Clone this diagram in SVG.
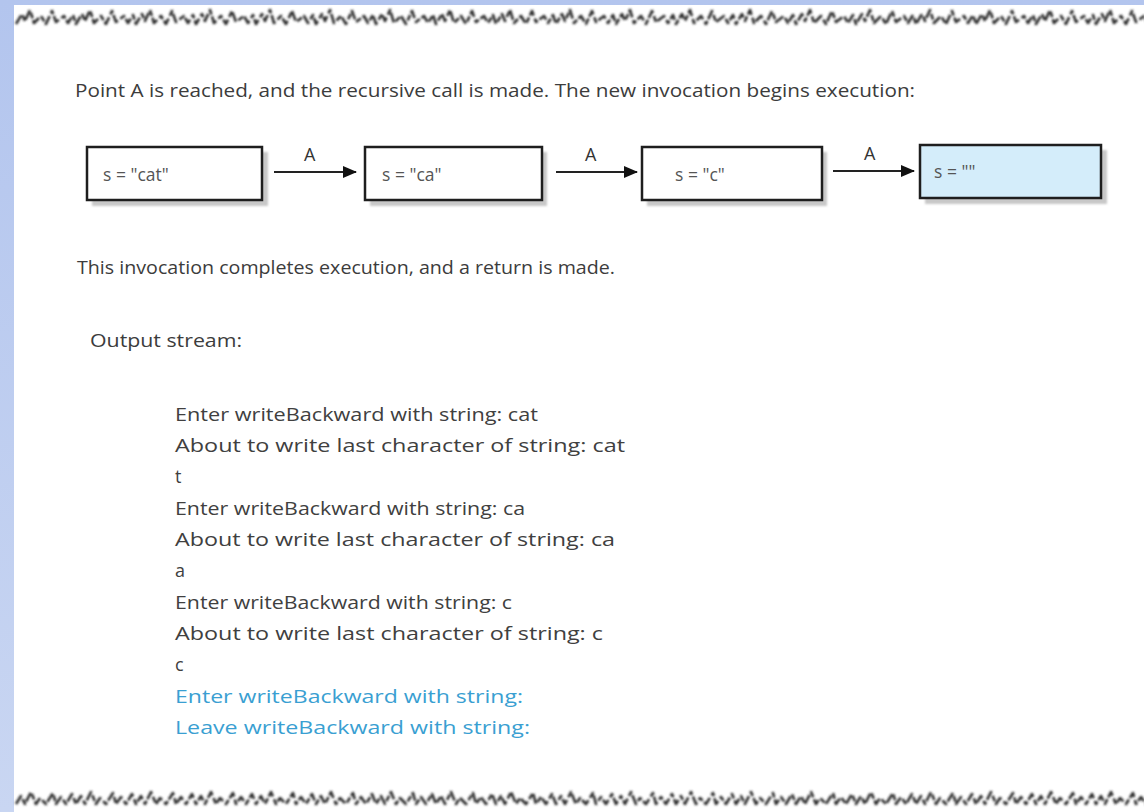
<svg xmlns="http://www.w3.org/2000/svg" width="1144" height="812" viewBox="0 0 1144 812">
<defs>
<style>
.t{font-family:"Open Sans","Noto Sans","Liberation Sans",sans-serif;font-size:18px;fill:#3c3c3c}
.o{font-family:"Open Sans","Noto Sans","Liberation Sans",sans-serif;font-size:18px;fill:#404040}
.b{fill:#3a9fd2}
.bx{fill:#ffffff;stroke:#1e1e1e;stroke-width:2.5}
.sh{fill:#c8c8c8}
.bt{font-family:"Open Sans","Noto Sans","Liberation Sans",sans-serif;font-size:17.5px;fill:#555}
.lbl{font-family:"Open Sans","Noto Sans","Liberation Sans",sans-serif;font-size:18px;fill:#333}
.ar{stroke:#222;stroke-width:2;fill:none}
.edge{fill:none;stroke:#2e2e2e;stroke-width:2.6;stroke-linejoin:round;stroke-dasharray:10 3 6 2}
</style>
<marker id="ah" markerWidth="14" markerHeight="12" refX="13" refY="6" orient="auto" markerUnits="userSpaceOnUse">
<path d="M0,0 L14,6 L0,12 Z" fill="#111"/>
</marker>
<filter id="blur" x="-10%" y="-50%" width="120%" height="200%"><feGaussianBlur stdDeviation="1.3"/></filter>
<linearGradient id="lg" x1="0" y1="0" x2="0" y2="1"><stop offset="0" stop-color="#b3c5ee"/><stop offset="1" stop-color="#c9d6f2"/></linearGradient>
</defs>
<rect x="0" y="0" width="1144" height="812" fill="url(#lg)"/>
<rect x="14" y="5" width="1130" height="807" fill="#ffffff"/>
<g id="torn-edges" filter="url(#blur)">
<path class="edge" d="M16,24 l6,-10 l3,7 l5,-11 l4,13 l7,-7 l5,8 l6,-13 l4,11 l8,-6 l4,7 l5,-8 l3,9 l6,-10 l3,7 l5,-11 l4,13 l7,-7 l5,8 l6,-13 l4,11 l8,-6 l4,7 l5,-8 l3,9 l6,-10 l3,7 l5,-11 l4,13 l7,-7 l5,8 l6,-13 l4,11 l8,-6 l4,7 l5,-8 l3,9 l6,-10 l3,7 l5,-11 l4,13 l7,-7 l5,8 l6,-13 l4,11 l8,-6 l4,7 l5,-8 l3,9 l6,-10 l3,7 l5,-11 l4,13 l7,-7 l5,8 l6,-13 l4,11 l8,-6 l4,7 l5,-8 l3,9 l6,-10 l3,7 l5,-11 l4,13 l7,-7 l5,8 l6,-13 l4,11 l8,-6 l4,7 l5,-8 l3,9 l6,-10 l3,7 l5,-11 l4,13 l7,-7 l5,8 l6,-13 l4,11 l8,-6 l4,7 l5,-8 l3,9 l6,-10 l3,7 l5,-11 l4,13 l7,-7 l5,8 l6,-13 l4,11 l8,-6 l4,7 l5,-8 l3,9 l6,-10 l3,7 l5,-11 l4,13 l7,-7 l5,8 l6,-13 l4,11 l8,-6 l4,7 l5,-8 l3,9 l6,-10 l3,7 l5,-11 l4,13 l7,-7 l5,8 l6,-13 l4,11 l8,-6 l4,7 l5,-8 l3,9 l6,-10 l3,7 l5,-11 l4,13 l7,-7 l5,8 l6,-13 l4,11 l8,-6 l4,7 l5,-8 l3,9 l6,-10 l3,7 l5,-11 l4,13 l7,-7 l5,8 l6,-13 l4,11 l8,-6 l4,7 l5,-8 l3,9 l6,-10 l3,7 l5,-11 l4,13 l7,-7 l5,8 l6,-13 l4,11 l8,-6 l4,7 l5,-8 l3,9 l6,-10 l3,7 l5,-11 l4,13 l7,-7 l5,8 l6,-13 l4,11 l8,-6 l4,7 l5,-8 l3,9 l6,-10 l3,7 l5,-11 l4,13 l7,-7 l5,8 l6,-13 l4,11 l8,-6 l4,7 l5,-8 l3,9 l6,-10 l3,7 l5,-11 l4,13 l7,-7 l5,8 l6,-13 l4,11 l8,-6 l4,7 l5,-8 l3,9 l6,-10 l3,7 l5,-11 l4,13 l7,-7 l5,8 l6,-13 l4,11 l8,-6 l4,7 l5,-8 l3,9 l6,-10 l3,7 l5,-11 l4,13 l7,-7 l5,8 l6,-13 l4,11 l8,-6 l4,7 l5,-8 l3,9 l6,-10 l3,7 l5,-11 l4,13 l7,-7 l5,8 l6,-13 l4,11 l8,-6 l4,7 l5,-8 l3,9 l6,-10 l3,7 l5,-11 l4,13 l7,-7 l5,8 l6,-13 l4,11 l8,-6 l4,7 l5,-8 l3,9"/>
<path class="edge" d="M16,804 l5,-8 l4,8 l6,-12 l5,12 l4,-6 l6,6 l7,-11 l3,11 l5,-7 l5,7 l6,-10 l4,10 l5,-8 l4,8 l6,-12 l5,12 l4,-6 l6,6 l7,-11 l3,11 l5,-7 l5,7 l6,-10 l4,10 l5,-8 l4,8 l6,-12 l5,12 l4,-6 l6,6 l7,-11 l3,11 l5,-7 l5,7 l6,-10 l4,10 l5,-8 l4,8 l6,-12 l5,12 l4,-6 l6,6 l7,-11 l3,11 l5,-7 l5,7 l6,-10 l4,10 l5,-8 l4,8 l6,-12 l5,12 l4,-6 l6,6 l7,-11 l3,11 l5,-7 l5,7 l6,-10 l4,10 l5,-8 l4,8 l6,-12 l5,12 l4,-6 l6,6 l7,-11 l3,11 l5,-7 l5,7 l6,-10 l4,10 l5,-8 l4,8 l6,-12 l5,12 l4,-6 l6,6 l7,-11 l3,11 l5,-7 l5,7 l6,-10 l4,10 l5,-8 l4,8 l6,-12 l5,12 l4,-6 l6,6 l7,-11 l3,11 l5,-7 l5,7 l6,-10 l4,10 l5,-8 l4,8 l6,-12 l5,12 l4,-6 l6,6 l7,-11 l3,11 l5,-7 l5,7 l6,-10 l4,10 l5,-8 l4,8 l6,-12 l5,12 l4,-6 l6,6 l7,-11 l3,11 l5,-7 l5,7 l6,-10 l4,10 l5,-8 l4,8 l6,-12 l5,12 l4,-6 l6,6 l7,-11 l3,11 l5,-7 l5,7 l6,-10 l4,10 l5,-8 l4,8 l6,-12 l5,12 l4,-6 l6,6 l7,-11 l3,11 l5,-7 l5,7 l6,-10 l4,10 l5,-8 l4,8 l6,-12 l5,12 l4,-6 l6,6 l7,-11 l3,11 l5,-7 l5,7 l6,-10 l4,10 l5,-8 l4,8 l6,-12 l5,12 l4,-6 l6,6 l7,-11 l3,11 l5,-7 l5,7 l6,-10 l4,10 l5,-8 l4,8 l6,-12 l5,12 l4,-6 l6,6 l7,-11 l3,11 l5,-7 l5,7 l6,-10 l4,10 l5,-8 l4,8 l6,-12 l5,12 l4,-6 l6,6 l7,-11 l3,11 l5,-7 l5,7 l6,-10 l4,10 l5,-8 l4,8 l6,-12 l5,12 l4,-6 l6,6 l7,-11 l3,11 l5,-7 l5,7 l6,-10 l4,10 l5,-8 l4,8 l6,-12 l5,12 l4,-6 l6,6 l7,-11 l3,11 l5,-7 l5,7 l6,-10 l4,10 l5,-8 l4,8 l6,-12 l5,12 l4,-6 l6,6 l7,-11 l3,11 l5,-7 l5,7 l6,-10 l4,10 l5,-8 l4,8 l6,-12 l5,12 l4,-6 l6,6 l7,-11 l3,11 l5,-7 l5,7 l6,-10 l4,10"/>
</g>
<text class="t" x="75" y="97" textLength="840" lengthAdjust="spacingAndGlyphs">Point A is reached, and the recursive call is made. The new invocation begins execution:</text>
<g id="node1">
<rect class="sh" x="92" y="152" width="176" height="54" filter="url(#blur)"/>
<rect class="bx" x="87" y="147" width="175" height="53"/>
<text class="bt" x="103" y="181">s = "cat"</text>
</g>
<g id="node2">
<rect class="sh" x="370" y="152" width="177" height="54" filter="url(#blur)"/>
<rect class="bx" x="365" y="147" width="177" height="53"/>
<text class="bt" x="382" y="181">s = "ca"</text>
</g>
<g id="node3">
<rect class="sh" x="647" y="152" width="180" height="54" filter="url(#blur)"/>
<rect class="bx" x="642" y="147" width="180" height="53"/>
<text class="bt" x="675" y="181">s = "c"</text>
</g>
<g id="node4">
<rect class="sh" x="925" y="150" width="182" height="54" filter="url(#blur)"/>
<rect class="bx" x="920" y="145" width="181" height="53" style="fill:#d4edfa"/>
<text class="bt" x="934" y="178">s = ""</text>
</g>
<g id="connectors">
<line class="ar" x1="274" y1="172" x2="356" y2="172" marker-end="url(#ah)"/>
<text class="lbl" x="304" y="161">A</text>
<line class="ar" x1="556" y1="172" x2="637" y2="172" marker-end="url(#ah)"/>
<text class="lbl" x="585" y="161">A</text>
<line class="ar" x1="833" y1="171" x2="914" y2="171" marker-end="url(#ah)"/>
<text class="lbl" x="864" y="160">A</text>
</g>
<text class="t" x="77" y="274" textLength="538" lengthAdjust="spacingAndGlyphs">This invocation completes execution, and a return is made.</text>
<text class="t" x="90" y="347" textLength="152" lengthAdjust="spacingAndGlyphs">Output stream:</text>
<g id="output">
<text class="o" x="175" y="421" textLength="363" lengthAdjust="spacingAndGlyphs">Enter writeBackward with string: cat</text>
<text class="o" x="175" y="452" textLength="450" lengthAdjust="spacingAndGlyphs">About to write last character of string: cat</text>
<text class="o" x="175" y="483">t</text>
<text class="o" x="175" y="515" textLength="350" lengthAdjust="spacingAndGlyphs">Enter writeBackward with string: ca</text>
<text class="o" x="175" y="546" textLength="440" lengthAdjust="spacingAndGlyphs">About to write last character of string: ca</text>
<text class="o" x="175" y="577">a</text>
<text class="o" x="175" y="609" textLength="337" lengthAdjust="spacingAndGlyphs">Enter writeBackward with string: c</text>
<text class="o" x="175" y="640" textLength="428" lengthAdjust="spacingAndGlyphs">About to write last character of string: c</text>
<text class="o" x="175" y="671">c</text>
<text class="o b" x="175" y="703" textLength="348" lengthAdjust="spacingAndGlyphs">Enter writeBackward with string:</text>
<text class="o b" x="175" y="734" textLength="355" lengthAdjust="spacingAndGlyphs">Leave writeBackward with string:</text>
</g>
</svg>
